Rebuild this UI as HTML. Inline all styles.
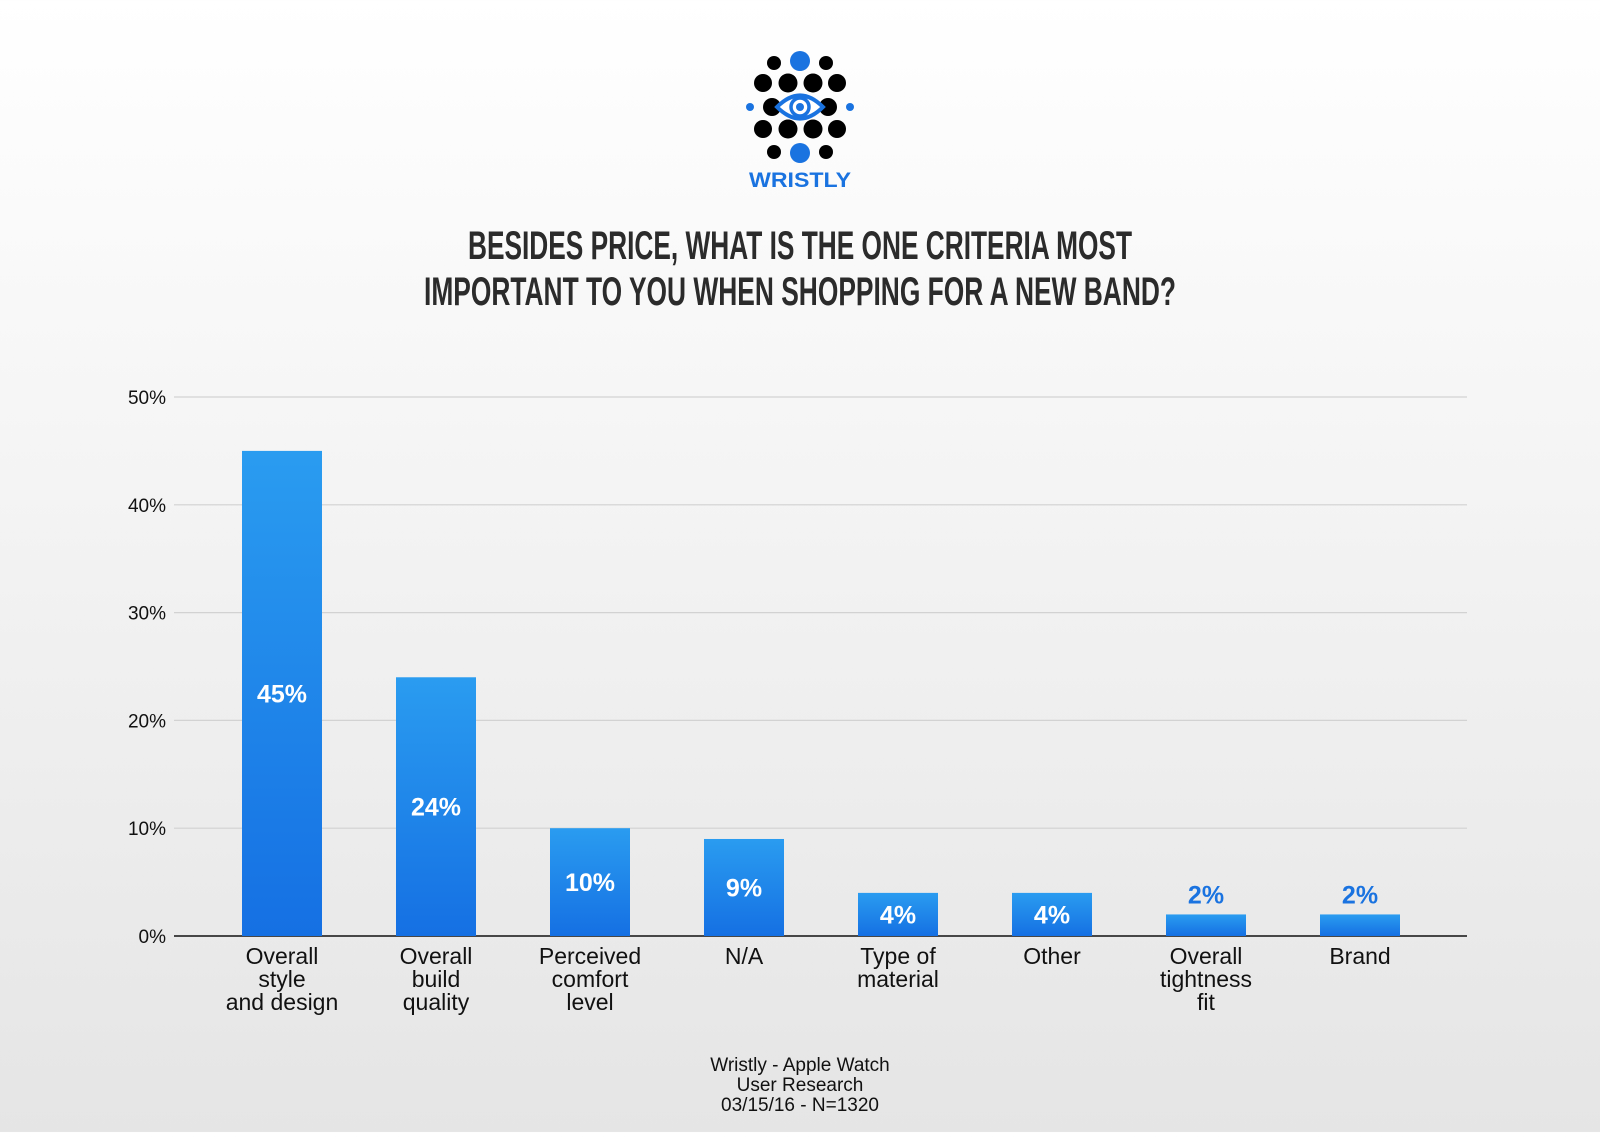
<!DOCTYPE html>
<html><head><meta charset="utf-8"><style>
html,body{margin:0;padding:0}
body{width:1600px;height:1132px;overflow:hidden;background:linear-gradient(#ffffff 0%,#f6f6f6 35%,#e5e5e5 100%);font-family:"Liberation Sans",sans-serif}
</style></head><body>
<svg id="chart" width="1600" height="1132" xmlns="http://www.w3.org/2000/svg">
<defs><linearGradient id="bg" x1="0" y1="0" x2="0" y2="1"><stop offset="0" stop-color="#2a9cf0"/><stop offset="1" stop-color="#1570e3"/></linearGradient></defs>
<g>
<circle cx="800" cy="61" r="10" fill="#1a73e0"/><circle cx="800" cy="153" r="10" fill="#1a73e0"/>
<circle cx="774" cy="63" r="7" fill="#000"/><circle cx="826" cy="63" r="7" fill="#000"/>
<circle cx="774" cy="152" r="7" fill="#000"/><circle cx="826" cy="152" r="7" fill="#000"/>
<circle cx="763" cy="83" r="9" fill="#000"/><circle cx="788" cy="83" r="9.5" fill="#000"/><circle cx="813" cy="83" r="9.5" fill="#000"/><circle cx="837" cy="83" r="9" fill="#000"/>
<circle cx="763" cy="129" r="9" fill="#000"/><circle cx="788" cy="129" r="9.5" fill="#000"/><circle cx="813" cy="129" r="9.5" fill="#000"/><circle cx="837" cy="129" r="9" fill="#000"/>
<circle cx="750" cy="107" r="4" fill="#1a73e0"/><circle cx="850" cy="107" r="4" fill="#1a73e0"/>
<circle cx="772" cy="107" r="9" fill="#000"/><circle cx="828" cy="107" r="9" fill="#000"/>
<path d="M777 107 Q800 84 823 107 Q800 130 777 107Z" fill="#fff" stroke="#1a73e0" stroke-width="4"/>
<circle cx="800" cy="107" r="9" fill="none" stroke="#1a73e0" stroke-width="3.5"/><circle cx="800" cy="107" r="4" fill="#1a73e0"/>
<text x="800" y="187" text-anchor="middle" font-size="21" font-weight="bold" fill="#1a73e0" textLength="102" lengthAdjust="spacingAndGlyphs">WRISTLY</text>
</g>
<g font-weight="bold" fill="#2b2b2b" font-size="40" text-anchor="middle">
<text x="800" y="259" textLength="664" lengthAdjust="spacingAndGlyphs">BESIDES PRICE, WHAT IS THE ONE CRITERIA MOST</text>
<text x="800" y="305" textLength="752" lengthAdjust="spacingAndGlyphs">IMPORTANT TO YOU WHEN SHOPPING FOR A NEW BAND?</text>
</g>
<g id="grid"></g><g id="bars"></g><g id="xlabels"></g>
<g font-size="19" fill="#111" text-anchor="middle">
<text x="800" y="1071">Wristly - Apple Watch</text><text x="800" y="1091">User Research</text><text x="800" y="1111">03/15/16 - N=1320</text>
</g>
</svg>
<script>
const categories=[["Overall","style","and design"],["Overall","build","quality"],["Perceived","comfort","level"],["N/A"],["Type of","material"],["Other"],["Overall","tightness","fit"],["Brand"]];
const values=[45,24,10,9,4,4,2,2];
const yTicks=[0,10,20,30,40,50];
const NS="http://www.w3.org/2000/svg";
const x0=174,x1=1467,y0=936,y50=397,step=154,firstC=282,bw=80;
const y=v=>y0-(v/50)*(y0-y50);
const xc=i=>firstC+i*step;
function mk(t,a,p){const e=document.createElementNS(NS,t);for(const k in a)e.setAttribute(k,a[k]);p.appendChild(e);return e;}
const g=document.getElementById('grid'),b=document.getElementById('bars'),xl=document.getElementById('xlabels');
yTicks.forEach(t=>{
 if(t>0){const l=mk('line',{x1:x0,x2:x1,y1:y(t),y2:y(t),stroke:'#d2d2d2','stroke-width':1.2},g);
 
 }
 const tx=mk('text',{x:166,y:y(t)+7,'text-anchor':'end','font-size':19,fill:'#111'},g);tx.textContent=t+'%';
 
 
});
const ax=mk('line',{x1:x0,x2:x1,y1:y0,y2:y0,stroke:'#111','stroke-width':1.5},g);


values.forEach((v,i)=>{
 const r=mk('rect',{x:xc(i)-bw/2,y:y(v),width:bw,height:y0-y(v),fill:'url(#bg)'},b);
 
 
 const inside=(y0-y(v))>30;
 const ty=inside?(y(v)+y0)/2+9:y(v)-11;
 const t=mk('text',{x:xc(i),y:ty,'text-anchor':'middle','font-size':25,'font-weight':'bold',fill:inside?'#fff':'#1a73e0'},b);
 t.textContent=v+'%';
 
 
 categories[i].forEach((s,j)=>{
  const c=mk('text',{x:xc(i),y:964+j*23,'text-anchor':'middle','font-size':23,fill:'#111'},xl);c.textContent=s;
  
  
 });
});
</script>
</body></html>
